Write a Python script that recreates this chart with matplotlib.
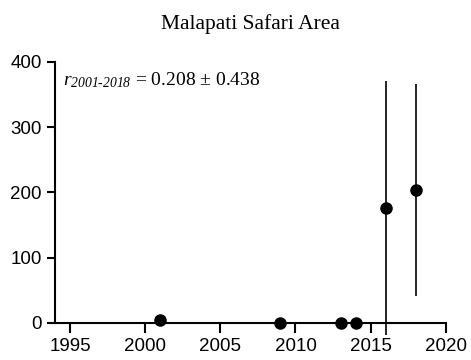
import numpy as np
from matplotlib import pyplot as plt

# Yearly estimates with their error half-widths
years = [2001, 2009, 2013, 2014, 2016, 2018]
values = [5, 0, 0, 0, 176, 204]
errors = [6, 0, 0, 0, 195, 162]

plt.rcParams["font.family"] = ["Liberation Sans", "DejaVu Sans"]
plt.rcParams["mathtext.fontset"] = "custom"
plt.rcParams["mathtext.rm"] = "Liberation Serif:italic"
plt.rcParams["mathtext.it"] = "Liberation Serif:italic"

fig = plt.figure(figsize=(4.71, 3.6), dpi=100)
ax = fig.add_axes([0.1168, 0.1028, 0.8295, 0.725])

ax.errorbar(years, values, yerr=errors, fmt="o", color="black",
            markersize=8, elinewidth=1.2, capsize=0, clip_on=False, zorder=3)

ax.set_xlim(1994, 2020)
ax.set_ylim(0, 400)
ax.set_xticks([1995, 2000, 2005, 2010, 2015, 2020])
ax.set_yticks([0, 100, 200, 300, 400])

for side in ["top", "right"]:
    ax.spines[side].set_visible(False)
for side in ["left", "bottom"]:
    ax.spines[side].set_linewidth(1.5)
ax.tick_params(width=1.5, labelsize=13.5, pad=3.5)
ax.tick_params(axis="x", length=7)
ax.tick_params(axis="y", length=6)

ax.text(1994.53, 365, r"$r_{2001\text{-}2018}$ = 0.208 ± 0.438",
        fontsize=14, family="Liberation Serif", va="baseline")

ax.set_title("Malapati Safari Area", fontsize=15.5,
             family="Liberation Serif", pad=23.5)

plt.savefig("out.png", dpi=100)
